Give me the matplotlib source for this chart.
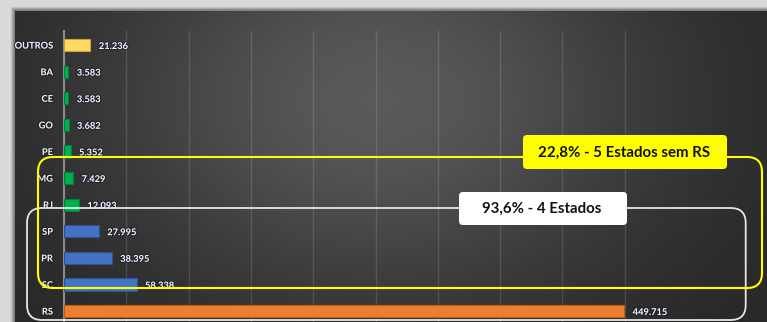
import numpy as np
import matplotlib.pyplot as plt
import matplotlib.patheffects as pe
from matplotlib.patches import FancyBboxPatch, Rectangle

# Producao por estado (categorias de cima para baixo)
estados = ['OUTROS', 'BA', 'CE', 'GO', 'PE', 'MG', 'RJ', 'SP', 'PR', 'SC', 'RS']
valores = [21236, 3583, 3583, 3682, 5352, 7429, 12093, 27995, 38395, 58338, 449715]
cores = ['#FFD966', '#00B050', '#00B050', '#00B050', '#00B050', '#00B050', '#00B050',
         '#4472C4', '#4472C4', '#4472C4', '#ED7D31']
bordas = ['#C9A23A', '#00803A', '#00803A', '#00803A', '#00803A', '#00803A', '#00803A',
          '#2F528F', '#2F528F', '#2F528F', '#C55A11']

txt_5_estados = '22,8% - 5 Estados sem RS'
txt_4_estados = '93,6% - 4 Estados'

W, H = 767, 322
fig = plt.figure(figsize=(W / 100, H / 100), dpi=100)
fig.patch.set_facecolor('#d9d9d9')

# painel escuro com gradiente radial
bg = fig.add_axes([0, 0, 1, 1], zorder=0)
bg.set_xlim(0, W)
bg.set_ylim(H, 0)
bg.axis('off')
xx, yy = np.meshgrid(np.arange(15, W), np.arange(11, H))
r2 = ((xx - 380) / 280.0) ** 2 + ((yy - 100) / 200.0) ** 2
lum = 0.15 + 0.2 * np.exp(-r2)
img = np.dstack([lum, lum, lum])
bg.imshow(img, extent=(15, W, H, 11), aspect='auto', interpolation='bilinear', zorder=1)
# sombra suave na borda do painel
for i, a in enumerate([0.08, 0.16, 0.26, 0.38]):
    bg.add_patch(Rectangle((11 + i, 7 + i), W, H, facecolor='none',
                           edgecolor='black', linewidth=1, alpha=a, zorder=0.5))

# grafico de barras
ax = fig.add_axes([64 / W, 0, (687 - 64) / W, (H - 31) / H], zorder=2)
ax.patch.set_alpha(0)
y = np.arange(len(estados))
ax.barh(y, valores, height=0.46, color=cores, edgecolor=bordas, linewidth=0.8, zorder=3)
ax.set_xlim(0, 500000)
ax.set_ylim(10.41, -0.53)
ax.set_xticks(np.arange(0, 500001, 50000))
ax.set_yticks(y)
ax.set_yticklabels(estados)
ax.grid(axis='x', color='#ffffff', alpha=0.13, linewidth=1)
ax.tick_params(axis='x', length=0, labelbottom=False)
ax.tick_params(axis='y', length=0, pad=8)
sombra = [pe.withStroke(linewidth=1.6, foreground='#1a2030', alpha=0.7)]
for lbl in ax.get_yticklabels():
    lbl.set_fontfamily('Lato')
    lbl.set_fontweight('bold')
    lbl.set_fontsize(6.7)
    lbl.set_color('#f0f0f0')
    lbl.set_path_effects(sombra)
for s in ['top', 'right', 'bottom']:
    ax.spines[s].set_visible(False)
ax.spines['left'].set_color('#8a8a8a')
ax.spines['left'].set_linewidth(1.5)

for yi, v in zip(y, valores):
    ax.annotate(f'{v:,}'.replace(',', '.'), (v, yi), xytext=(6, -1), textcoords='offset points',
                ha='left', va='center', fontsize=6.7, fontfamily='Lato', fontweight='bold',
                color='#f2f2f2', zorder=4, path_effects=sombra)

# destaques sobrepostos em coordenadas de pixel
ov = fig.add_axes([0, 0, 1, 1], zorder=3)
ov.set_xlim(0, W)
ov.set_ylim(H, 0)
ov.axis('off')
ov.patch.set_alpha(0)

ov.add_patch(FancyBboxPatch((27, 208), 745.7 - 27, 320 - 208,
                            boxstyle='round,pad=0,rounding_size=15',
                            facecolor='none', edgecolor='#e6e6e6', linewidth=1.3))
ov.add_patch(FancyBboxPatch((38, 157), 762 - 38, 288 - 157,
                            boxstyle='round,pad=0,rounding_size=15',
                            facecolor='none', edgecolor='#ffff00', linewidth=1.5))

ov.add_patch(FancyBboxPatch((523, 135), 727 - 523, 169 - 135,
                            boxstyle='round,pad=0,rounding_size=4',
                            facecolor='#ffff00', edgecolor='none'))
ov.text(624, 152.5, txt_5_estados, ha='center', va='center', fontsize=10.8,
        fontfamily='Lato', fontweight='bold', color='#111111')

ov.add_patch(FancyBboxPatch((459, 192), 627 - 459, 225 - 192,
                            boxstyle='round,pad=0,rounding_size=4',
                            facecolor='#ffffff', edgecolor='none'))
ov.text(542, 209, txt_4_estados, ha='center', va='center', fontsize=10.8,
        fontfamily='Lato', fontweight='bold', color='#111111')

fig.savefig('out.png', dpi=100)
